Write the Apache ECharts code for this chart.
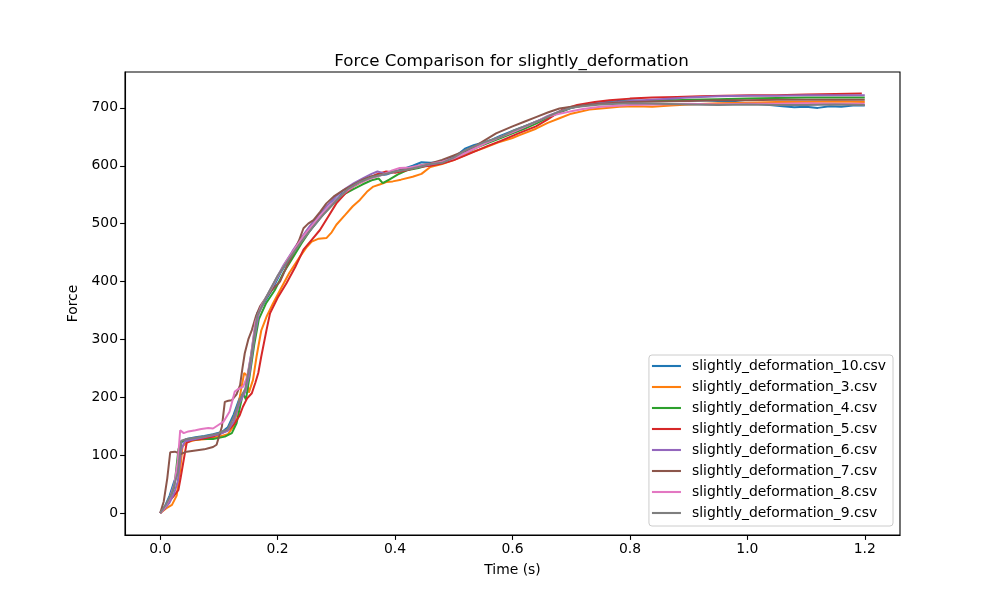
<!DOCTYPE html>
<html>
<head>
<meta charset="utf-8">
<script src="https://cdn.jsdelivr.net/npm/echarts@6/dist/echarts.min.js"></script>
<style>
html,body{margin:0;padding:0;background:#fff;}
#chart{width:1000px;height:600px;}
</style>
</head>
<body>
<div id="chart"></div>
<script>
var names = ['slightly_deformation_10.csv','slightly_deformation_3.csv','slightly_deformation_4.csv',
	'slightly_deformation_5.csv','slightly_deformation_6.csv','slightly_deformation_7.csv',
	'slightly_deformation_8.csv','slightly_deformation_9.csv'];
var colors = ['#1f77b4','#ff7f0e','#2ca02c','#d62728','#9467bd','#8c564b','#e377c2','#7f7f7f'];
var xTicks = [0,0.2,0.4,0.6,0.8,1.0,1.2];
var yTicks = [0,100,200,300,400,500,600,700];

// [time, force]
var s10 = [[0,0],[0.008,12],[0.016,30],[0.024,55],[0.03,70],[0.036,122],[0.045,128],[0.06,131],[0.075,133],[0.09,136],[0.105,140],[0.115,148],[0.125,170],[0.135,198],[0.145,212],[0.155,275],[0.165,345],[0.175,360],[0.19,385],[0.205,415],[0.22,440],[0.235,462],[0.25,482],[0.265,500],[0.28,520],[0.295,538],[0.31,552],[0.325,562],[0.34,572],[0.355,578],[0.37,583],[0.385,585],[0.4,590],[0.415,595],[0.43,600],[0.445,606],[0.46,605],[0.475,606],[0.49,612],[0.505,618],[0.52,630],[0.535,636],[0.55,640],[0.565,645],[0.58,652],[0.6,660],[0.62,668],[0.64,676],[0.66,684],[0.68,693],[0.7,700],[0.72,705],[0.74,709],[0.76,711],[0.78,712],[0.8,713],[0.83,712],[0.86,714],[0.89,712],[0.92,713],[0.95,712],[0.98,710],[1.0,708],[1.03,706],[1.06,703],[1.08,701],[1.1,702],[1.12,700],[1.14,703],[1.16,702],[1.18,704],[1.2,704]];
var s3 = [[0,0],[0.01,8],[0.02,14],[0.028,30],[0.034,75],[0.038,115],[0.045,122],[0.06,126],[0.08,128],[0.1,132],[0.115,136],[0.125,150],[0.133,185],[0.138,215],[0.143,242],[0.147,238],[0.151,208],[0.158,230],[0.164,270],[0.172,315],[0.181,339],[0.192,362],[0.204,385],[0.22,415],[0.238,443],[0.25,460],[0.258,469],[0.27,474],[0.283,475],[0.292,485],[0.3,498],[0.315,515],[0.328,530],[0.34,541],[0.352,555],[0.363,564],[0.375,568],[0.385,572],[0.396,573],[0.41,576],[0.43,581],[0.445,586],[0.46,598],[0.48,603],[0.5,610],[0.527,622],[0.55,630],[0.575,640],[0.6,648],[0.612,653],[0.64,664],[0.66,674],[0.68,682],[0.7,690],[0.731,697],[0.76,700],[0.782,702],[0.81,703],[0.838,702],[0.87,704],[0.9,706],[0.95,708],[1.0,709],[1.05,710],[1.1,710],[1.15,711],[1.2,710]];
var s4 = [[0,0],[0.008,10],[0.016,22],[0.024,45],[0.031,110],[0.036,124],[0.05,126],[0.07,128],[0.09,128],[0.11,132],[0.122,138],[0.13,155],[0.136,184],[0.141,207],[0.146,196],[0.152,235],[0.16,290],[0.168,335],[0.18,362],[0.195,385],[0.21,415],[0.225,440],[0.24,465],[0.255,488],[0.27,508],[0.285,524],[0.3,540],[0.315,552],[0.33,560],[0.345,568],[0.36,575],[0.372,578],[0.379,570],[0.39,576],[0.405,585],[0.42,592],[0.44,596],[0.46,602],[0.48,605],[0.5,612],[0.52,622],[0.54,632],[0.56,640],[0.58,648],[0.6,656],[0.62,664],[0.64,673],[0.66,683],[0.68,692],[0.7,700],[0.72,704],[0.75,708],[0.78,710],[0.8,712],[0.85,712],[0.9,714],[0.95,715],[1.0,716],[1.05,717],[1.1,718],[1.15,718],[1.2,718]];
var s5 = [[0,0],[0.008,8],[0.014,20],[0.022,28],[0.031,40],[0.035,62],[0.039,86],[0.045,121],[0.054,126],[0.07,128],[0.09,132],[0.105,138],[0.118,145],[0.127,155],[0.135,168],[0.141,184],[0.148,198],[0.156,207],[0.162,225],[0.167,242],[0.172,270],[0.181,316],[0.187,345],[0.2,372],[0.215,397],[0.23,425],[0.244,455],[0.258,472],[0.272,489],[0.286,512],[0.3,535],[0.315,552],[0.33,565],[0.351,576],[0.368,585],[0.385,590],[0.4,588],[0.42,592],[0.44,598],[0.46,600],[0.48,604],[0.5,610],[0.52,618],[0.555,633],[0.58,643],[0.61,656],[0.64,668],[0.66,680],[0.685,697],[0.71,705],[0.74,710],[0.765,713],[0.8,716],[0.838,718],[0.88,719],[0.92,720],[0.96,721],[1.008,722],[1.05,722],[1.1,723],[1.15,724],[1.195,725]];
var s6 = [[0,0],[0.008,8],[0.016,18],[0.024,35],[0.03,55],[0.036,110],[0.042,124],[0.06,128],[0.08,132],[0.1,136],[0.115,142],[0.125,158],[0.135,190],[0.145,210],[0.152,240],[0.16,300],[0.168,345],[0.18,372],[0.195,400],[0.21,428],[0.225,452],[0.24,475],[0.255,496],[0.27,515],[0.285,532],[0.3,548],[0.315,560],[0.33,570],[0.345,578],[0.36,586],[0.37,590],[0.385,586],[0.4,590],[0.42,594],[0.44,598],[0.46,602],[0.48,606],[0.5,614],[0.52,624],[0.54,634],[0.56,642],[0.58,650],[0.6,658],[0.62,667],[0.64,676],[0.66,686],[0.68,694],[0.7,700],[0.72,704],[0.75,708],[0.78,710],[0.8,712],[0.85,715],[0.9,718],[0.95,720],[1.0,721],[1.05,721],[1.1,722],[1.15,722],[1.2,722]];
var s7 = [[0,0],[0.006,20],[0.012,60],[0.017,105],[0.025,106],[0.035,102],[0.045,106],[0.06,108],[0.075,110],[0.082,112],[0.09,114],[0.096,118],[0.105,149],[0.11,192],[0.116,194],[0.122,195],[0.13,205],[0.136,221],[0.14,250],[0.144,276],[0.15,300],[0.156,316],[0.163,340],[0.17,357],[0.18,372],[0.19,385],[0.204,400],[0.215,425],[0.227,449],[0.236,470],[0.244,492],[0.252,500],[0.261,506],[0.272,520],[0.283,535],[0.297,548],[0.312,558],[0.33,568],[0.345,576],[0.36,582],[0.38,586],[0.4,590],[0.42,594],[0.44,600],[0.46,604],[0.48,610],[0.5,618],[0.52,626],[0.54,636],[0.572,656],[0.6,668],[0.62,676],[0.64,684],[0.66,692],[0.68,699],[0.7,702],[0.725,705],[0.75,707],[0.8,710],[0.85,711],[0.9,712],[0.95,713],[1.0,713],[1.05,714],[1.1,714],[1.15,714],[1.2,714]];
var s8 = [[0,0],[0.008,10],[0.016,25],[0.024,50],[0.03,90],[0.034,143],[0.04,138],[0.048,141],[0.06,143],[0.07,145],[0.082,147],[0.09,146],[0.099,152],[0.108,158],[0.118,175],[0.127,210],[0.134,215],[0.141,218],[0.148,235],[0.155,275],[0.162,330],[0.172,358],[0.185,380],[0.2,408],[0.215,435],[0.23,458],[0.245,480],[0.26,498],[0.275,516],[0.29,532],[0.305,546],[0.32,558],[0.335,568],[0.35,575],[0.365,580],[0.38,585],[0.395,592],[0.408,596],[0.425,597],[0.44,600],[0.46,603],[0.48,607],[0.5,613],[0.52,622],[0.54,632],[0.56,642],[0.58,650],[0.6,658],[0.62,667],[0.64,676],[0.66,685],[0.68,690],[0.7,694],[0.72,698],[0.75,702],[0.8,705],[0.85,706],[0.9,707],[0.95,706],[1.0,707],[1.05,707],[1.1,708],[1.15,707],[1.2,707]];
var s9 = [[0,0],[0.01,15],[0.02,35],[0.03,70],[0.036,125],[0.045,128],[0.06,130],[0.08,133],[0.1,138],[0.115,145],[0.125,165],[0.135,195],[0.145,215],[0.155,270],[0.165,340],[0.18,372],[0.2,410],[0.22,440],[0.24,468],[0.26,494],[0.28,518],[0.3,540],[0.32,560],[0.34,572],[0.36,580],[0.38,585],[0.4,590],[0.42,593],[0.44,598],[0.46,603],[0.48,605],[0.5,614],[0.52,627],[0.55,640],[0.58,650],[0.6,660],[0.62,668],[0.65,680],[0.68,694],[0.7,700],[0.72,703],[0.75,706],[0.8,708],[0.85,707],[0.9,706],[0.95,705],[1.0,706],[1.05,705],[1.1,705],[1.15,706],[1.2,705]];

var allData = [s10,s3,s4,s5,s6,s7,s8,s9];

var myChart = echarts.init(document.getElementById('chart'));
var font = 'DejaVu Sans';
var series = [];
for (var i = 0; i < names.length; i++) {
	series.push({
		name: names[i],
		type: 'line',
		data: allData[i],
		showSymbol: false,
		symbol: 'none',
		lineStyle: {width: 2, color: colors[i]},
		itemStyle: {color: colors[i]},
		z: 2 + i
	});
}

var option = {
	animation: false,
	backgroundColor: '#fff',
	textStyle: {fontFamily: font},
	title: {
		text: 'Force Comparison for slightly_deformation',
		left: 506.5,
		top: 48,
		textAlign: 'center',
		textStyle: {fontFamily: font, fontSize: 16.7, fontWeight: 'normal', color: '#000'}
	},
	grid: {
		left: 125, right: 100, top: 72, bottom: 65,
		show: true, borderColor: '#000', borderWidth: 1.1, backgroundColor: '#fff'
	},
	legend: {
		orient: 'vertical',
		right: 107,
		bottom: 74,
		icon: 'rect',
		itemWidth: 29,
		itemHeight: 2.1,
		itemGap: 7,
		padding: [4, 7, 6, 3],
		borderColor: '#cccccc',
		borderWidth: 1,
		borderRadius: 3,
		backgroundColor: 'rgba(255,255,255,0.8)',
		textStyle: {fontFamily: font, fontSize: 13.9, color: '#000', lineHeight: 14, padding: [0, 0, 0, 6]},
		data: names
	},
	xAxis: {
		type: 'value',
		min: -0.06,
		max: 1.26,
		name: 'Time (s)',
		nameLocation: 'middle',
		nameGap: 28,
		nameTextStyle: {fontFamily: font, fontSize: 13.9, color: '#000'},
		axisLine: {show: true, onZero: false, lineStyle: {color: '#000', width: 1.1}},
		axisTick: {show: true, length: 4.9, lineStyle: {color: '#000', width: 1.1}, customValues: xTicks},
		axisLabel: {
			color: '#000', fontFamily: font, fontSize: 13.9, margin: 7,
			customValues: xTicks,
			formatter: function (v) { return v.toFixed(1); }
		},
		splitLine: {show: false}
	},
	yAxis: {
		type: 'value',
		min: -38,
		max: 762,
		name: 'Force',
		nameLocation: 'middle',
		nameGap: 43,
		nameRotate: 90,
		nameTextStyle: {fontFamily: font, fontSize: 13.9, color: '#000'},
		axisLine: {show: true, onZero: false, lineStyle: {color: '#000', width: 1.1}},
		axisTick: {show: true, length: 4.9, lineStyle: {color: '#000', width: 1.1}, customValues: yTicks},
		axisLabel: {
			color: '#000', fontFamily: font, fontSize: 13.9, margin: 7,
			customValues: yTicks
		},
		splitLine: {show: false}
	},
	series: series
};

myChart.setOption(option);
</script>
</body>
</html>
